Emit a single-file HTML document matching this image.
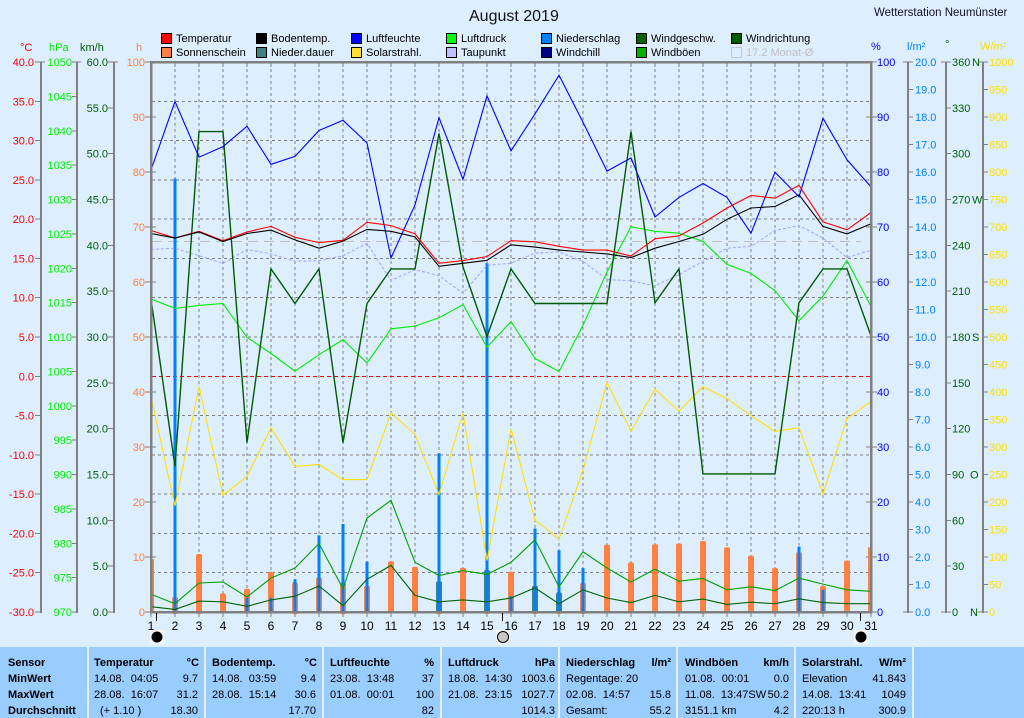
<!DOCTYPE html>
<html><head><meta charset="utf-8"><style>
html,body{margin:0;padding:0;background:#ddeeff;}
svg{display:block;font-family:"Liberation Sans",Arial,sans-serif;}
</style></head><body>
<svg width="1024" height="718" viewBox="0 0 1024 718" xmlns="http://www.w3.org/2000/svg">
<rect x="0" y="0" width="1024" height="718" fill="#ddeeff"/>
<!-- Title -->
<text x="469" y="21" font-size="16" fill="#111">August 2019</text>
<text x="874" y="16" font-size="11.5" fill="#101030">Wetterstation Neumünster</text>
<!-- Legend -->
<g font-size="11" fill="#000">
<rect x="161.5" y="33.5" width="10" height="10" fill="#ff0000" stroke="#000"/><text x="176" y="42">Temperatur</text>
<rect x="256.5" y="33.5" width="10" height="10" fill="#000000" stroke="#000"/><text x="271" y="42">Bodentemp.</text>
<rect x="351.5" y="33.5" width="10" height="10" fill="#0000ff" stroke="#000"/><text x="366" y="42">Luftfeuchte</text>
<rect x="446.5" y="33.5" width="10" height="10" fill="#00ff00" stroke="#000"/><text x="461" y="42">Luftdruck</text>
<rect x="541.5" y="33.5" width="10" height="10" fill="#0080ff" stroke="#000"/><text x="556" y="42">Niederschlag</text>
<rect x="636.5" y="33.5" width="10" height="10" fill="#006400" stroke="#000"/><text x="651" y="42">Windgeschw.</text>
<rect x="731.5" y="33.5" width="10" height="10" fill="#005a00" stroke="#000"/><text x="746" y="42">Windrichtung</text>
<rect x="161.5" y="47.5" width="10" height="10" fill="#ff8040" stroke="#000"/><text x="176" y="56">Sonnenschein</text>
<rect x="256.5" y="47.5" width="10" height="10" fill="#408080" stroke="#000"/><text x="271" y="56">Nieder.dauer</text>
<rect x="351.5" y="47.5" width="10" height="10" fill="#ffe030" stroke="#000"/><text x="366" y="56">Solarstrahl.</text>
<rect x="446.5" y="47.5" width="10" height="10" fill="#c0c0ff" stroke="#000"/><text x="461" y="56">Taupunkt</text>
<rect x="541.5" y="47.5" width="10" height="10" fill="#000080" stroke="#000"/><text x="556" y="56">Windchill</text>
<rect x="636.5" y="47.5" width="10" height="10" fill="#00b000" stroke="#000"/><text x="651" y="56">Windböen</text>
<rect x="731.5" y="47.5" width="10" height="10" fill="none" stroke="#c8c8c8"/><text x="746" y="56" fill="#c0c0c0">17.2 Monat-Ø</text>
</g>
<!-- Unit headers -->
<g font-size="11">
<text x="20" y="51" fill="#ff0000">°C</text>
<text x="49" y="51" fill="#00ee00">hPa</text>
<text x="80" y="51" fill="#006000">km/h</text>
<text x="136" y="51" fill="#ff8040">h</text>
<text x="871" y="50" fill="#0000ff">%</text>
<text x="907" y="50" fill="#0080ff">l/m²</text>
<text x="945" y="48" fill="#006000">°</text>
<text x="980" y="50" fill="#ffe000">W/m²</text>
</g>

<!-- Axis lines left/right -->
<g stroke="#808080" stroke-width="2" shape-rendering="crispEdges">
<line x1="41" y1="62" x2="41" y2="613"/>
<line x1="77" y1="62" x2="77" y2="613"/>
<line x1="114" y1="62" x2="114" y2="613"/>
<line x1="908" y1="62" x2="908" y2="613"/>
<line x1="946" y1="62" x2="946" y2="613"/>
<line x1="983" y1="62" x2="983" y2="613"/>
</g>
<!-- Ticks -->
<g stroke="#808080" stroke-width="1" shape-rendering="crispEdges">
<path d="M35 62H45M35 101.3H41M35 140.6H41M35 179.9H41M35 219.1H41M35 258.4H41M35 297.7H41M35 337H41M35 376.3H41M35 415.6H41M35 454.9H41M35 494.1H41M35 533.4H41M35 572.7H41M35 612H41"/>
<path d="M72 62H81M72 96.4H77M72 130.8H77M72 165.1H77M72 199.5H77M72 233.9H77M72 268.3H77M72 302.6H77M72 337H77M72 371.4H77M72 405.8H77M72 440.1H77M72 474.5H77M72 508.9H77M72 543.3H77M72 577.6H77M72 612H77"/>
<path d="M108 62H118M108 107.8H114M108 153.7H114M108 199.5H114M108 245.3H114M108 291.2H114M108 337H114M108 382.8H114M108 428.7H114M108 474.5H114M108 520.3H114M108 566.2H114M108 612H114"/>
<path d="M145 62H151M145 117H151M145 172H151M145 227H151M145 282H151M145 337H151M145 392H151M145 447H151M145 502H151M145 557H151M145 612H151"/>
<path d="M152 117H156M152 172H156M152 227H156M152 282H156M152 337H156M152 392H156M152 447H156M152 502H156M152 557H156"/>
<path d="M871 62H877M871 117H877M871 172H877M871 227H877M871 282H877M871 337H877M871 392H877M871 447H877M871 502H877M871 557H877M871 612H877"/>
<path d="M866 117H870M866 172H870M866 227H870M866 282H870M866 337H870M866 392H870M866 447H870M866 502H870M866 557H870"/>
<path d="M903 62H913M908 89.5H913M908 117H913M908 144.5H913M908 172H913M908 199.5H913M908 227H913M908 254.5H913M908 282H913M908 309.5H913M908 337H913M908 364.5H913M908 392H913M908 419.5H913M908 447H913M908 474.5H913M908 502H913M908 529.5H913M908 557H913M908 584.5H913M903 612H913"/>
<path d="M941 62H951M946 107.8H951M946 153.7H951M946 199.5H951M946 245.3H951M946 291.2H951M946 337H951M946 382.8H951M946 428.7H951M946 474.5H951M946 520.3H951M946 566.2H951M941 612H951"/>
<path d="M978 62H988M983 89.5H988M983 117H988M983 144.5H988M983 172H988M983 199.5H988M983 227H988M983 254.5H988M983 282H988M983 309.5H988M983 337H988M983 364.5H988M983 392H988M983 419.5H988M983 447H988M983 474.5H988M983 502H988M983 529.5H988M983 557H988M983 584.5H988M978 612H988"/>
<path d="M175 63V67M199 63V67M223 63V67M247 63V67M271 63V67M295 63V67M319 63V67M343 63V67M367 63V67M391 63V67M415 63V67M439 63V67M463 63V67M487 63V67M511 63V67M535 63V67M559 63V67M583 63V67M607 63V67M631 63V67M655 63V67M679 63V67M703 63V67M727 63V67M751 63V67M775 63V67M799 63V67M823 63V67M847 63V67"/>
<path d="M151 612V617M175 612V617M199 612V617M223 612V617M247 612V617M271 612V617M295 612V617M319 612V617M343 612V617M367 612V617M391 612V617M415 612V617M439 612V617M463 612V617M487 612V617M511 612V617M535 612V617M559 612V617M583 612V617M607 612V617M631 612V617M655 612V617M679 612V617M703 612V617M727 612V617M751 612V617M775 612V617M799 612V617M823 612V617M847 612V617M871 612V617"/>
</g>

<!-- Left labels -->
<g font-size="11" fill="#ff0000" text-anchor="end">
<text x="34" y="66">40.0</text><text x="34" y="105.3">35.0</text><text x="34" y="144.6">30.0</text><text x="34" y="183.9">25.0</text><text x="34" y="223.1">20.0</text><text x="34" y="262.4">15.0</text><text x="34" y="301.7">10.0</text><text x="34" y="341">5.0</text><text x="34" y="380.3">0.0</text><text x="34" y="419.6">-5.0</text><text x="34" y="458.9">-10.0</text><text x="34" y="498.1">-15.0</text><text x="34" y="537.4">-20.0</text><text x="34" y="576.7">-25.0</text><text x="34" y="616">-30.0</text>
</g>
<g font-size="11" fill="#00ee00" text-anchor="end">
<text x="72" y="66">1050</text><text x="72" y="100.4">1045</text><text x="72" y="134.8">1040</text><text x="72" y="169.1">1035</text><text x="72" y="203.5">1030</text><text x="72" y="237.9">1025</text><text x="72" y="272.3">1020</text><text x="72" y="306.6">1015</text><text x="72" y="341">1010</text><text x="72" y="375.4">1005</text><text x="72" y="409.8">1000</text><text x="72" y="444.1">995</text><text x="72" y="478.5">990</text><text x="72" y="512.9">985</text><text x="72" y="547.3">980</text><text x="72" y="581.6">975</text><text x="72" y="616">970</text>
</g>
<g font-size="11" fill="#006000" text-anchor="end">
<text x="108" y="66">60.0</text><text x="108" y="111.8">55.0</text><text x="108" y="157.7">50.0</text><text x="108" y="203.5">45.0</text><text x="108" y="249.3">40.0</text><text x="108" y="295.2">35.0</text><text x="108" y="341">30.0</text><text x="108" y="386.8">25.0</text><text x="108" y="432.7">20.0</text><text x="108" y="478.5">15.0</text><text x="108" y="524.3">10.0</text><text x="108" y="570.2">5.0</text><text x="108" y="616">0.0</text>
</g>
<g font-size="11" fill="#ff8040" text-anchor="end">
<text x="145" y="66">100</text><text x="145" y="121">90</text><text x="145" y="176">80</text><text x="145" y="231">70</text><text x="145" y="286">60</text><text x="145" y="341">50</text><text x="145" y="396">40</text><text x="145" y="451">30</text><text x="145" y="506">20</text><text x="145" y="561">10</text><text x="145" y="616">0</text>
</g>
<!-- Right labels -->
<g font-size="11" fill="#0000ff">
<text x="877" y="66">100</text><text x="877" y="121">90</text><text x="877" y="176">80</text><text x="877" y="231">70</text><text x="877" y="286">60</text><text x="877" y="341">50</text><text x="877" y="396">40</text><text x="877" y="451">30</text><text x="877" y="506">20</text><text x="877" y="561">10</text><text x="877" y="616">0</text>
</g>
<g font-size="11" fill="#0080ff">
<text x="915" y="66">20.0</text><text x="915" y="93.5">19.0</text><text x="915" y="121">18.0</text><text x="915" y="148.5">17.0</text><text x="915" y="176">16.0</text><text x="915" y="203.5">15.0</text><text x="915" y="231">14.0</text><text x="915" y="258.5">13.0</text><text x="915" y="286">12.0</text><text x="915" y="313.5">11.0</text><text x="915" y="341">10.0</text><text x="915" y="368.5">9.0</text><text x="915" y="396">8.0</text><text x="915" y="423.5">7.0</text><text x="915" y="451">6.0</text><text x="915" y="478.5">5.0</text><text x="915" y="506">4.0</text><text x="915" y="533.5">3.0</text><text x="915" y="561">2.0</text><text x="915" y="588.5">1.0</text><text x="915" y="616">0.0</text>
</g>
<g font-size="11" fill="#006000">
<text x="952" y="66">360</text><text x="972" y="66">N</text>
<text x="952" y="111.8">330</text><text x="952" y="157.7">300</text>
<text x="952" y="203.5">270</text><text x="972" y="203.5">W</text>
<text x="952" y="249.3">240</text><text x="952" y="295.2">210</text>
<text x="952" y="341">180</text><text x="972" y="341">S</text>
<text x="952" y="386.8">150</text><text x="952" y="432.7">120</text>
<text x="952" y="478.5">90</text><text x="970" y="478.5">O</text>
<text x="952" y="524.3">60</text><text x="952" y="570.2">30</text>
<text x="952" y="616">0</text><text x="970" y="616">N</text>
</g>
<g font-size="11" fill="#ffe000">
<text x="989" y="66">1000</text><text x="989" y="93.5">950</text><text x="989" y="121">900</text><text x="989" y="148.5">850</text><text x="989" y="176">800</text><text x="989" y="203.5">750</text><text x="989" y="231">700</text><text x="989" y="258.5">650</text><text x="989" y="286">600</text><text x="989" y="313.5">550</text><text x="989" y="341">500</text><text x="989" y="368.5">450</text><text x="989" y="396">400</text><text x="989" y="423.5">350</text><text x="989" y="451">300</text><text x="989" y="478.5">250</text><text x="989" y="506">200</text><text x="989" y="533.5">150</text><text x="989" y="561">100</text><text x="989" y="588.5">50</text><text x="989" y="616">0</text>
</g>

<!-- Grid -->
<g stroke="#808080" stroke-width="1" stroke-dasharray="3,3" shape-rendering="crispEdges" fill="none">
<path d="M175 63V611M199 63V611M223 63V611M247 63V611M271 63V611M295 63V611M319 63V611M343 63V611M367 63V611M391 63V611M415 63V611M439 63V611M463 63V611M487 63V611M511 63V611M535 63V611M559 63V611M583 63V611M607 63V611M631 63V611M655 63V611M679 63V611M703 63V611M727 63V611M751 63V611M775 63V611M799 63V611M823 63V611M847 63V611"/>
<path d="M152 101.5H870M152 140.5H870M152 180H870M152 219H870M152 258.5H870M152 297.5H870M152 337H870M152 415.5H870M152 455H870M152 494H870M152 533.5H870M152 572.5H870"/>
</g>
<line x1="152" y1="376.5" x2="870" y2="376.5" stroke="#ff0000" stroke-width="1" stroke-dasharray="4,3" shape-rendering="crispEdges"/>
<line x1="152" y1="241.5" x2="861" y2="241.5" stroke="#c0c0c0" stroke-width="1" stroke-dasharray="10,6" shape-rendering="crispEdges"/>

<!-- Sunshine bars -->
<g fill="#ff8040">
<rect x="151" y="559.3" width="3" height="52.7"/>
<rect x="172" y="597" width="6" height="17" rx="2"/>
<rect x="196" y="554" width="6" height="60" rx="2"/>
<rect x="220" y="593.4" width="6" height="20" rx="2"/>
<rect x="244" y="588.7" width="6" height="25" rx="2"/>
<rect x="268" y="571.8" width="6" height="42" rx="2"/>
<rect x="292" y="582.3" width="6" height="32" rx="2"/>
<rect x="316" y="577.4" width="6" height="36" rx="2"/>
<rect x="340" y="582.3" width="6" height="32" rx="2"/>
<rect x="364" y="585.7" width="6" height="28" rx="2"/>
<rect x="388" y="561.2" width="6" height="52" rx="2"/>
<rect x="412" y="566.7" width="6" height="47" rx="2"/>
<rect x="436" y="594.3" width="6" height="20" rx="2"/>
<rect x="460" y="567.8" width="6" height="46" rx="2"/>
<rect x="484" y="600" width="6" height="14" rx="2"/>
<rect x="508" y="571.6" width="6" height="42" rx="2"/>
<rect x="532" y="598" width="6" height="16" rx="2"/>
<rect x="556" y="603" width="6" height="11" rx="2"/>
<rect x="580" y="583" width="6" height="31" rx="2"/>
<rect x="604" y="544.6" width="6" height="69" rx="2"/>
<rect x="628" y="562.4" width="6" height="51" rx="2"/>
<rect x="652" y="544.3" width="6" height="69" rx="2"/>
<rect x="676" y="543.5" width="6" height="70" rx="2"/>
<rect x="700" y="540.9" width="6" height="73" rx="2"/>
<rect x="724" y="547.3" width="6" height="66" rx="2"/>
<rect x="748" y="555.5" width="6" height="58" rx="2"/>
<rect x="772" y="567.8" width="6" height="46" rx="2"/>
<rect x="796" y="552.1" width="6" height="61" rx="2"/>
<rect x="820" y="585.9" width="6" height="28" rx="2"/>
<rect x="844" y="560.5" width="6" height="53" rx="2"/>
<rect x="868" y="547.3" width="3" height="64.7"/>
</g>
<!-- Nieder.dauer -->
<g fill="#408080">
<rect x="436" y="581.2" width="6" height="31" rx="2"/>
<rect x="484" y="569.9" width="6" height="42" rx="2"/>
<rect x="532" y="585.6" width="6" height="26" rx="2"/>
<rect x="556" y="592.4" width="6" height="20" rx="2"/>
</g>
<!-- Precipitation -->
<g fill="#0080ff">
<rect x="173.5" y="178.6" width="3" height="433.4"/>
<rect x="245.5" y="598" width="3" height="14"/>
<rect x="269.5" y="598" width="3" height="14"/>
<rect x="293.5" y="579.3" width="3" height="32.7"/>
<rect x="317.5" y="535.3" width="3" height="76.7"/>
<rect x="341.5" y="524" width="3" height="88"/>
<rect x="365.5" y="561.6" width="3" height="50.4"/>
<rect x="437.5" y="453.3" width="3" height="158.7"/>
<rect x="485.5" y="263.3" width="3" height="348.7"/>
<rect x="509.5" y="596.2" width="3" height="15.8"/>
<rect x="533.5" y="528.5" width="3" height="83.5"/>
<rect x="557.5" y="550.3" width="3" height="61.7"/>
<rect x="581.5" y="568" width="3" height="44"/>
<rect x="797.5" y="546.6" width="3" height="65.4"/>
<rect x="821.5" y="589.8" width="3" height="22.2"/>
</g>

<!-- Series lines -->
<g fill="none" stroke-width="1.1" stroke-linejoin="miter">
<polyline stroke="#ffe000" points="151,396.8 175,505.9 199,386.7 223,495.3 247,476.5 271,427.7 295,466.4 319,464.5 343,479.6 367,479.6 391,413 415,434.4 439,494.6 463,413 487,560.5 511,428.8 535,520.2 559,539 583,470.2 607,382.5 631,431 655,389.3 679,411.1 703,386.7 727,398.7 751,415.6 775,431.4 799,427.7 823,493.9 847,418.6 871,401.3"/>
<polyline stroke="#a8a8ff" stroke-dasharray="3,2" points="151,249.4 175,248.2 199,255.8 223,263.3 247,249.4 271,253.9 295,261.4 319,260.6 343,255.8 367,243.3 391,280.5 415,269.7 439,275.7 463,293.4 487,265.2 511,263.3 535,253.1 559,252 583,261.4 607,279.4 631,280.9 655,285.8 679,274.5 703,261.4 727,248.2 751,246.3 775,230.5 799,225.6 823,238 847,257.6 871,250.1"/>
<polyline stroke="#00ee00" points="151,299 175,308.4 199,305.4 223,303.5 247,337.4 271,353.5 295,371.2 319,354.7 343,339.6 367,363 391,328.8 415,326.1 439,317.8 463,304.6 487,347.2 511,321.6 535,358.4 559,371.6 583,325.3 607,271.9 631,226.8 655,231.3 679,233.2 703,241.5 727,264.4 751,273.4 775,290.7 799,320.8 823,296 847,260.6 871,306.5"/>
<polyline stroke="#00a000" points="151,594.3 175,603.7 199,583 223,581.9 247,597 271,578.1 295,568 319,543.5 343,588.7 367,518 391,500.3 415,562.4 439,575.5 463,570.6 487,574.4 511,562.4 535,539.8 559,586.8 583,551.8 607,568 631,582 655,569.1 679,581.2 703,578.5 727,589.8 751,586.8 775,590.6 799,578.1 823,584.1 847,589.8 871,591.3"/>
<polyline stroke="#006400" points="151,606.7 175,609.4 199,601.1 223,601.8 247,606.3 271,599.9 295,596.2 319,586 343,605.6 367,579.3 391,565.4 415,595.4 439,601.8 463,599.9 487,601.8 511,598 535,587.9 559,603.7 583,589.8 607,598 631,602.6 655,595.4 679,601.8 703,599.1 727,604.4 751,602.2 775,603.7 799,598.8 823,602.6 847,603.7 871,603.7"/>
<polyline stroke="#005a00" stroke-width="1.4" points="151,299 175,466.4 199,131.6 223,131.6 247,442.7 271,268.9 295,303.5 319,268.9 343,442.7 367,303.5 391,268.9 415,268.9 439,133.5 463,267 487,336.6 511,268.9 535,303.5 559,303.5 583,303.5 607,303.5 631,131.6 655,302.8 679,268.9 703,473.9 727,473.9 751,473.9 775,473.9 799,302.8 823,268.9 847,268.9 871,335.9"/>
<polyline stroke="#0000ff" points="151,170 175,101.5 199,157.2 223,146.6 247,126.3 271,164.3 295,156.4 319,130.5 343,120.3 367,142.9 391,258 415,205 439,117.7 463,179.4 487,95.9 511,150.8 535,113.9 559,75.2 583,122.2 607,171.1 631,157.9 655,217 679,197.4 703,183.5 727,197.4 751,233.2 775,172.2 799,196.7 823,118.4 847,159.8 871,186.9"/>
<polyline stroke="#ff0000" points="151,230.5 175,238 199,231.3 223,240.7 247,232 271,226.4 295,237.3 319,242.6 343,240.3 367,222.3 391,225.6 415,233.9 439,263.3 463,260.6 487,256.5 511,240.7 535,241.8 559,246.3 583,250.1 607,250.1 631,256 655,238.8 679,235.8 703,223 727,208 751,195.5 775,198.2 799,185.4 823,221.9 847,229.8 871,212.5"/>
<polyline stroke="#000000" points="151,233.5 175,238 199,232 223,241.5 247,233.5 271,230.1 295,239.9 319,248.2 343,241.1 367,229.4 391,231.3 415,236.9 439,266.3 463,263.3 487,260.3 511,244.8 535,247.1 559,250.1 583,252 607,253.9 631,257.6 655,248.2 679,241.5 703,234.3 727,219.3 751,208 775,206.5 799,194.8 823,226.4 847,233.9 871,223.7"/>
</g>

<!-- Plot frame -->
<g stroke="#808080" stroke-width="2.5" fill="none" shape-rendering="crispEdges">
<line x1="150" y1="62" x2="872" y2="62"/>
<line x1="150" y1="612" x2="872" y2="612"/>
<line x1="151" y1="61" x2="151" y2="613"/>
<line x1="871" y1="61" x2="871" y2="613"/>
</g>

<!-- X labels -->
<g font-size="12" fill="#000" text-anchor="middle">
<text x="151" y="630">1</text><text x="175" y="630">2</text><text x="199" y="630">3</text><text x="223" y="630">4</text><text x="247" y="630">5</text><text x="271" y="630">6</text><text x="295" y="630">7</text><text x="319" y="630">8</text><text x="343" y="630">9</text><text x="367" y="630">10</text><text x="391" y="630">11</text><text x="415" y="630">12</text><text x="439" y="630">13</text><text x="463" y="630">14</text><text x="487" y="630">15</text><text x="511" y="630">16</text><text x="535" y="630">17</text><text x="559" y="630">18</text><text x="583" y="630">19</text><text x="607" y="630">20</text><text x="631" y="630">21</text><text x="655" y="630">22</text><text x="679" y="630">23</text><text x="703" y="630">24</text><text x="727" y="630">25</text><text x="751" y="630">26</text><text x="775" y="630">27</text><text x="799" y="630">28</text><text x="823" y="630">29</text><text x="847" y="630">30</text><text x="871" y="630">31</text>
</g>
<!-- Moon phases -->
<g stroke="#000" stroke-width="1" shape-rendering="crispEdges">
<line x1="156.5" y1="613" x2="156.5" y2="621"/>
<line x1="502.5" y1="613" x2="502.5" y2="621"/>
<line x1="860.5" y1="613" x2="860.5" y2="621"/>
</g>
<rect x="150" y="630" width="14" height="14" fill="#f4f4f4"/>
<circle cx="157" cy="637" r="5.5" fill="#000"/>
<rect x="496" y="630" width="14" height="14" fill="#f4f4f4"/>
<circle cx="503" cy="637" r="5.5" fill="#c8c8c8" stroke="#000" stroke-width="1"/>
<rect x="854" y="630" width="14" height="14" fill="#f4f4f4"/>
<circle cx="861" cy="637" r="5.5" fill="#000"/>

<!-- Table -->
<rect x="0" y="647" width="1024" height="71" fill="#99ccff"/>
<g fill="#e8eef6" shape-rendering="crispEdges">
<rect x="87" y="647" width="2" height="71"/>
<rect x="204" y="647" width="2" height="71"/>
<rect x="322" y="647" width="2" height="71"/>
<rect x="440" y="647" width="2" height="71"/>
<rect x="558" y="647" width="2" height="71"/>
<rect x="676" y="647" width="2" height="71"/>
<rect x="794" y="647" width="2" height="71"/>
<rect x="912" y="647" width="2" height="71"/>
</g>
<g font-size="11" fill="#000">
<g font-weight="bold">
<text x="8" y="666">Sensor</text><text x="8" y="682">MinWert</text><text x="8" y="698">MaxWert</text><text x="8" y="714">Durchschnitt</text>
<text x="94" y="666">Temperatur</text><text x="199" y="666" text-anchor="end">°C</text>
<text x="212" y="666">Bodentemp.</text><text x="317" y="666" text-anchor="end">°C</text>
<text x="330" y="666">Luftfeuchte</text><text x="434" y="666" text-anchor="end">%</text>
<text x="448" y="666">Luftdruck</text><text x="555" y="666" text-anchor="end">hPa</text>
<text x="566" y="666">Niederschlag</text><text x="671" y="666" text-anchor="end">l/m²</text>
<text x="685" y="666">Windböen</text><text x="789" y="666" text-anchor="end">km/h</text>
<text x="802" y="666">Solarstrahl.</text><text x="906" y="666" text-anchor="end">W/m²</text>
</g>
<text x="94" y="682" xml:space="preserve">14.08.  04:05</text><text x="198" y="682" text-anchor="end">9.7</text>
<text x="94" y="698" xml:space="preserve">28.08.  16:07</text><text x="198" y="698" text-anchor="end">31.2</text>
<text x="100" y="714" xml:space="preserve">(+ 1.10 )</text><text x="198" y="714" text-anchor="end">18.30</text>
<text x="212" y="682" xml:space="preserve">14.08.  03:59</text><text x="316" y="682" text-anchor="end">9.4</text>
<text x="212" y="698" xml:space="preserve">28.08.  15:14</text><text x="316" y="698" text-anchor="end">30.6</text>
<text x="316" y="714" text-anchor="end">17.70</text>
<text x="330" y="682" xml:space="preserve">23.08.  13:48</text><text x="434" y="682" text-anchor="end">37</text>
<text x="330" y="698" xml:space="preserve">01.08.  00:01</text><text x="434" y="698" text-anchor="end">100</text>
<text x="434" y="714" text-anchor="end">82</text>
<text x="448" y="682" xml:space="preserve">18.08.  14:30</text><text x="555" y="682" text-anchor="end">1003.6</text>
<text x="448" y="698" xml:space="preserve">21.08.  23:15</text><text x="555" y="698" text-anchor="end">1027.7</text>
<text x="555" y="714" text-anchor="end">1014.3</text>
<text x="566" y="682">Regentage: 20</text>
<text x="566" y="698" xml:space="preserve">02.08.  14:57</text><text x="671" y="698" text-anchor="end">15.8</text>
<text x="566" y="714">Gesamt:</text><text x="671" y="714" text-anchor="end">55.2</text>
<text x="685" y="682" xml:space="preserve">01.08.  00:01</text><text x="789" y="682" text-anchor="end">0.0</text>
<text x="685" y="698" xml:space="preserve">11.08.  13:47SW</text><text x="789" y="698" text-anchor="end">50.2</text>
<text x="685" y="714">3151.1 km</text><text x="789" y="714" text-anchor="end">4.2</text>
<text x="802" y="682">Elevation</text><text x="906" y="682" text-anchor="end">41.843</text>
<text x="802" y="698" xml:space="preserve">14.08.  13:41</text><text x="906" y="698" text-anchor="end">1049</text>
<text x="802" y="714">220:13 h</text><text x="906" y="714" text-anchor="end">300.9</text>
</g>
</svg>
</body></html>
